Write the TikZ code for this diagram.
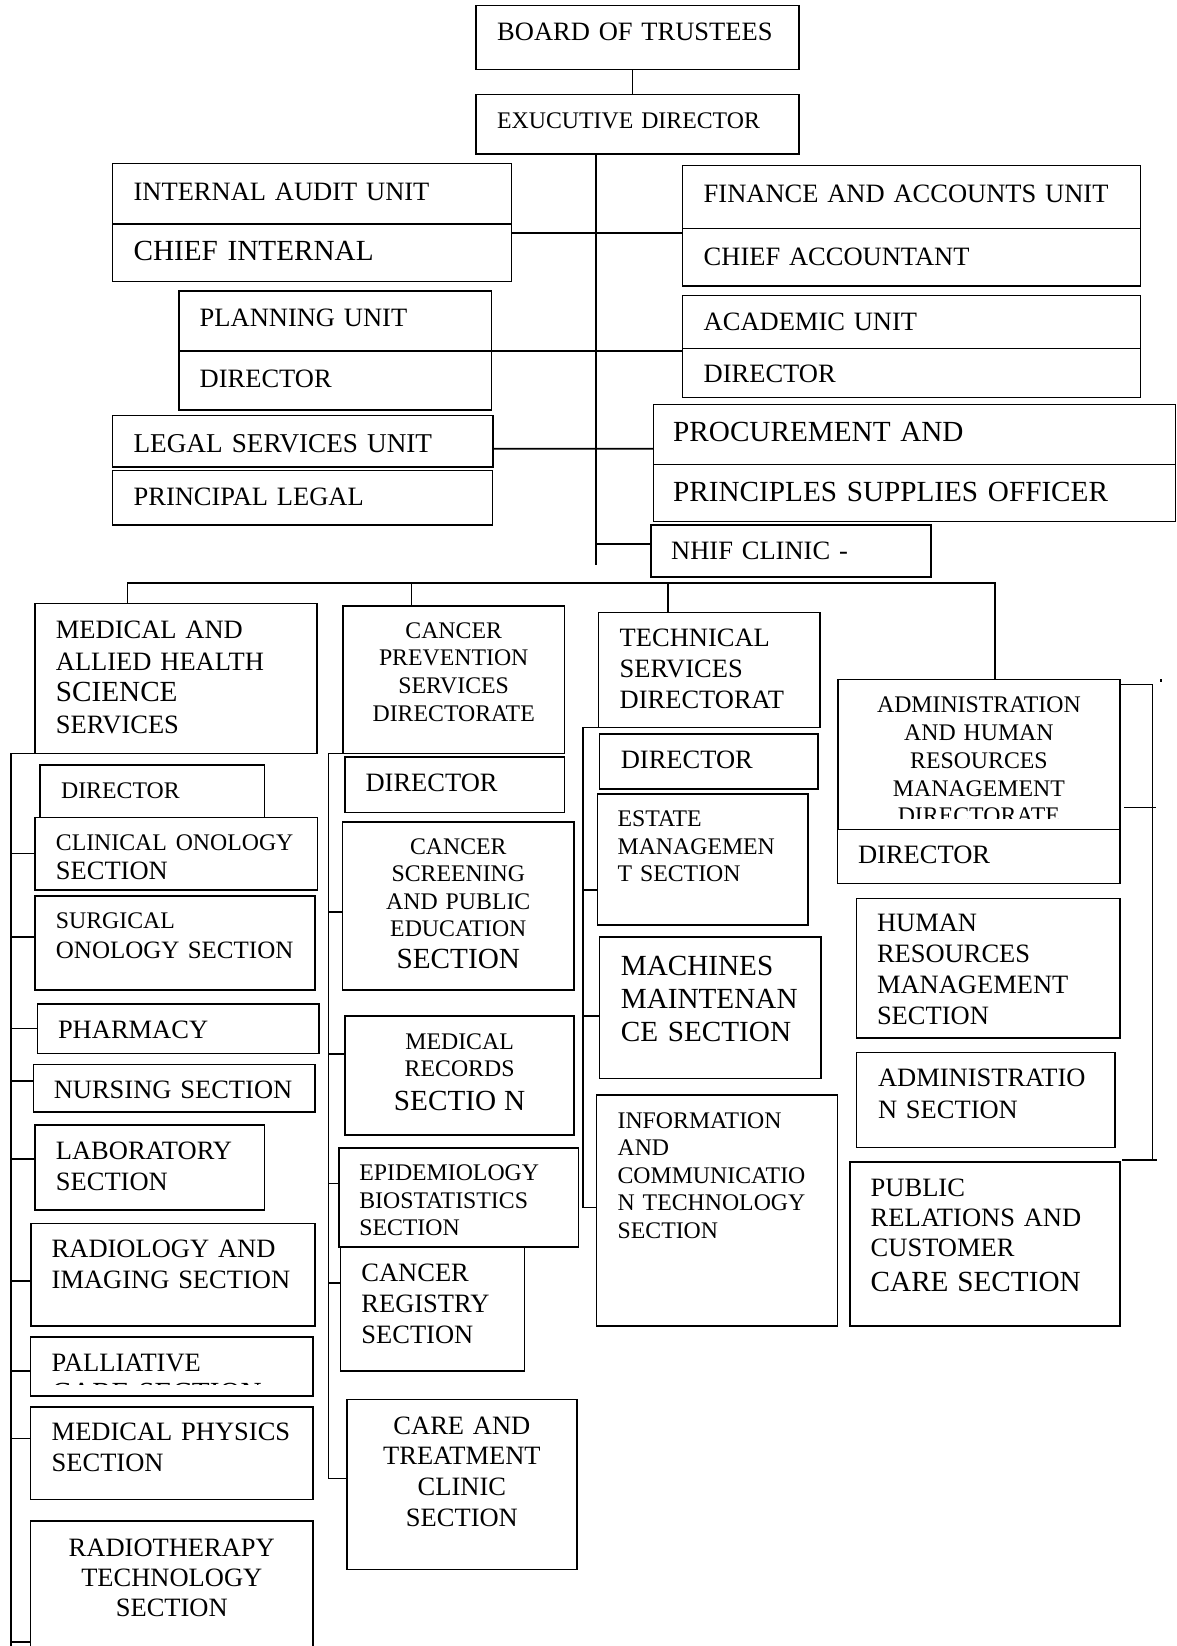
\documentclass[tikz,border=0pt]{standalone}
\usepackage{fontspec}
\setmainfont{Liberation Serif}
\usetikzlibrary{calc}

\newcommand{\fsm}{\fontsize{23.8}{27.6}\selectfont}
\newcommand{\fnm}{\fontsize{26.5}{30.7}\selectfont}
\newcommand{\fbg}{\fontsize{29.2}{33}\selectfont}

\begin{document}
\begin{tikzpicture}[x=1pt,y=1pt,yscale=-1,
    unit/.style={draw, line width=1.6pt, anchor=north west, inner sep=0pt, outer sep=0pt},
    lbl/.style={inner sep=0pt, anchor=base west, text width=#1, align=left},
    clbl/.style={inner sep=0pt, anchor=base, text width=#1, align=center},
    link/.style={line width=1.6pt}]
    \path[use as bounding box] (0,0) rectangle (1177,1646);
    \clip (0,0) rectangle (1177,1646);

    %Board and executive director
    \node[unit, minimum width=323pt, minimum height=64pt] (bot) at (476,5.5) {};
    \node[lbl=290pt, font=\fnm] (bot-l) at (497,40.5) {BOARD OF TRUSTEES};
    \node[unit, minimum width=323pt, minimum height=59.5pt] (exd) at (476,94.5) {};
    \node[lbl=290pt, font=\fsm] (exd-l) at (497,128) {EXUCUTIVE DIRECTOR};

    %Units under the executive director
    \node[unit, minimum width=399pt, minimum height=60.5pt] (iau) at (112.5,163.5) {};
    \node[lbl=370pt, font=\fnm] (iau-l) at (133.4,200) {INTERNAL AUDIT UNIT};
    \node[unit, minimum width=399pt, minimum height=57.5pt] (cia) at (112.5,224) {};
    \node[lbl=370pt, font=\fbg] (cia-l) at (133.4,260) {CHIEF INTERNAL};
    \node[unit, minimum width=458pt, minimum height=63pt] (fau) at (682.5,165.5) {};
    \node[lbl=430pt, font=\fnm] (fau-l) at (703.5,202.3) {FINANCE AND ACCOUNTS UNIT};
    \node[unit, minimum width=458pt, minimum height=57.5pt] (cha) at (682.5,228.5) {};
    \node[lbl=430pt, font=\fnm] (cha-l) at (703.5,265) {CHIEF ACCOUNTANT};
    \node[unit, minimum width=312.5pt, minimum height=60pt] (plu) at (179,291) {};
    \node[lbl=285pt, font=\fnm] (plu-l) at (199.5,326.7) {PLANNING UNIT};
    \node[unit, minimum width=312.5pt, minimum height=59pt] (pld) at (179,351) {};
    \node[lbl=285pt, font=\fnm] (pld-l) at (199.5,387.3) {DIRECTOR};
    \node[unit, minimum width=458pt, minimum height=53pt] (acu) at (682.5,295.5) {};
    \node[lbl=430pt, font=\fnm] (acu-l) at (703.5,330.7) {ACADEMIC UNIT};
    \node[unit, minimum width=458pt, minimum height=49pt] (acd) at (682.5,348.5) {};
    \node[lbl=430pt, font=\fnm] (acd-l) at (703.5,382.7) {DIRECTOR};
    \node[unit, minimum width=380.5pt, minimum height=51.5pt] (lsu) at (112.5,415.5) {};
    \node[lbl=355pt, font=\fontsize{27.2}{31}\selectfont] (lsu-l) at (133.4,452.7) {LEGAL SERVICES UNIT};
    \node[unit, minimum width=380pt, minimum height=54.5pt] (plg) at (112.5,470.5) {};
    \node[lbl=355pt, font=\fnm] (plg-l) at (133.4,505) {PRINCIPAL LEGAL};
    \node[unit, minimum width=522pt, minimum height=60pt] (pro) at (653.5,404.5) {};
    \node[lbl=495pt, font=\fbg] (pro-l) at (673,441.7) {PROCUREMENT AND};
    \node[unit, minimum width=522pt, minimum height=57pt] (pso) at (653.5,464.5) {};
    \node[lbl=495pt, font=\fbg] (pso-l) at (673,501.7) {PRINCIPLES SUPPLIES OFFICER};
    \node[unit, minimum width=280pt, minimum height=52pt] (nhif) at (651,525) {};
    \node[lbl=255pt, font=\fnm] (nhif-l) at (671,559.3) {NHIF CLINIC -};

    %Lines of the top part
    \draw[link] ($(bot.south)+(-5,0)$) -- ($(exd.north)+(-5,0)$);
    \coordinate (spine) at ($(exd.south)+(-41.5,0)$);
    \coordinate (spine-end) at ($(exd.south)+(-41.5,411)$);
    \draw[link] (spine) -- (spine-end);
    \draw[link] ($(cia.north east)+(0,8.7)$) -- ($(cha.north west)+(0,4.2)$);
    \draw[link] (plu.south east) -- (plu.south east -| acu.west);
    \draw[link] ($(lsu.east)+(0,7.5)$) -- ($(pro.west)+(0,14.2)$);
    \draw[link] ($(nhif.west)+(0,-7)$) coordinate (nh) -- (nh -| spine);

    %Medical and allied health science services
    \node[unit, minimum width=282pt, minimum height=150pt] (mah) at (35.2,603.3) {};
    \node[lbl=255pt, font=\fontsize{26.5}{31.7}\selectfont] (mah-l) at (55.7,638.3) {MEDICAL AND\\ALLIED HEALTH\\{\fbg SCIENCE}\\SERVICES};
    \node[unit, minimum width=224.7pt, minimum height=52.3pt] (md) at (39.8,765) {};
    \node[lbl=200pt, font=\fsm] (md-l) at (60.9,798.3) {DIRECTOR};
    \node[unit, minimum width=282.1pt, minimum height=72.7pt] (cos) at (35.2,817.3) {};
    \node[lbl=258pt, font=\fontsize{26.5}{29.3}\selectfont] (cos-l) at (55.7,850) {{\fsm CLINICAL ONOLOGY}\\SECTION};
    \node[unit, minimum width=279.8pt, minimum height=94pt] (sos) at (35.2,896) {};
    \node[lbl=255pt, font=\fontsize{25}{30}\selectfont] (sos-l) at (55.7,928.3) {{\fsm SURGICAL}\\ONOLOGY SECTION};
    \node[unit, minimum width=281.3pt, minimum height=49.3pt] (pha) at (37.5,1004) {};
    \node[lbl=255pt, font=\fnm] (pha-l) at (57.8,1038.3) {PHARMACY};
    \node[unit, minimum width=281.7pt, minimum height=47.4pt] (nur) at (33.3,1064.3) {};
    \node[lbl=258pt, font=\fnm] (nur-l) at (53.6,1098.3) {NURSING SECTION};
    \node[unit, minimum width=229.3pt, minimum height=85pt] (lab) at (35.2,1125) {};
    \node[lbl=205pt, font=\fnm] (lab-l) at (55.7,1159.3) {LABORATORY\\SECTION};
    \node[unit, minimum width=284pt, minimum height=102.7pt] (rad) at (31,1223.3) {};
    \node[lbl=260pt, font=\fontsize{26.5}{31}\selectfont] (rad-l) at (51.5,1257.3) {RADIOLOGY AND\\IMAGING SECTION};
    \node[unit, minimum width=282.4pt, minimum height=59.3pt] (pal) at (30.6,1336.7) {};
    \begin{scope}
      \clip (pal.north west) rectangle ($(pal.south east)+(0,-11.8)$);
      \node[lbl=258pt, font=\fnm] (pal-l) at (51.5,1371.7) {PALLIATIVE\\{\fbg CARE SECTION}};
    \end{scope}
    \node[unit, minimum width=282.4pt, minimum height=92.6pt] (mph) at (30.6,1406.7) {};
    \node[lbl=258pt, font=\fontsize{26.5}{31.7}\selectfont] (mph-l) at (51.5,1440) {MEDICAL PHYSICS\\SECTION};
    \node[unit, minimum width=282.4pt, minimum height=140pt] (rtt) at (30.6,1520.7) {};
    \node[clbl=282pt, font=\fontsize{26.5}{30.3}\selectfont] (rtt-l) at (171.8,1556) {RADIOTHERAPY\\TECHNOLOGY\\SECTION};

    %Cancer prevention services directorate
    \node[unit, minimum width=221.6pt, minimum height=147.6pt] (cps) at (342.9,605.7) {};
    \node[clbl=221pt, font=\fontsize{23.8}{27.9}\selectfont] (cps-l) at (453.7,638) {CANCER\\PREVENTION\\SERVICES\\DIRECTORATE};
    \node[unit, minimum width=219.7pt, minimum height=55.6pt] (cd) at (344.8,756.7) {};
    \node[lbl=195pt, font=\fnm] (cd-l) at (365.4,791.7) {DIRECTOR};
    \node[unit, minimum width=231.5pt, minimum height=168pt] (css) at (342.5,822) {};
    \node[clbl=231pt, font=\fsm] (css-l) at (458.3,854) {CANCER\\SCREENING\\AND PUBLIC\\EDUCATION\\[4pt]{\fbg SECTION}};
    \node[unit, minimum width=228.8pt, minimum height=119pt] (mrs) at (345.2,1016) {};
    \node[clbl=228pt, font=\fontsize{23.8}{27.4}\selectfont] (mrs-l) at (459.6,1049.3) {MEDICAL\\RECORDS\\[5.9pt]{\fbg SECTIO N}};
    \node[unit, minimum width=183.7pt, minimum height=124pt] (crs) at (340.6,1246.7) {};
    \node[lbl=160pt, font=\fontsize{26.5}{30.8}\selectfont] (crs-l) at (361.2,1281.7) {CANCER\\REGISTRY\\SECTION};
    \node[unit, minimum width=239.9pt, minimum height=99pt] (eps) at (338.7,1147.7) {};
    \node[lbl=215pt, font=\fontsize{23.8}{27.5}\selectfont] (eps-l) at (359.1,1180.7) {EPIDEMIOLOGY\\BIOSTATISTICS\\SECTION};
    \node[unit, minimum width=229.6pt, minimum height=170pt] (cts) at (347.1,1399.3) {};
    \node[clbl=229pt, font=\fontsize{26.5}{30.9}\selectfont] (cts-l) at (461.9,1434) {CARE AND\\TREATMENT\\CLINIC\\SECTION};

    %Technical services directorate
    \node[unit, minimum width=221.5pt, minimum height=115pt] (tsd) at (598.6,612.3) {};
    \node[lbl=198pt, font=\fontsize{26.5}{30.8}\selectfont] (tsd-l) at (619.5,646.7) {TECHNICAL\\SERVICES\\DIRECTORAT};
    \node[unit, minimum width=218.4pt, minimum height=55pt] (td) at (599.4,734) {};
    \node[lbl=195pt, font=\fnm] (td-l) at (620.6,768.3) {DIRECTOR};
    \node[unit, minimum width=210.6pt, minimum height=131pt] (ems) at (597.4,794) {};
    \node[lbl=188pt, font=\fontsize{23.8}{27.5}\selectfont] (ems-l) at (617.4,826.7) {ESTATE\\MANAGEMEN\\T SECTION};
    \node[unit, minimum width=221.6pt, minimum height=141.6pt] (mms) at (599.4,936.7) {};
    \node[lbl=198pt, font=\fontsize{29.2}{33.3}\selectfont] (mms-l) at (620.6,975) {MACHINES\\MAINTENAN\\CE SECTION};
    \node[unit, minimum width=240.9pt, minimum height=231pt] (ict) at (596.6,1095) {};
    \node[lbl=218pt, font=\fontsize{23.8}{27.5}\selectfont] (ict-l) at (617.4,1128.3) {INFORMATION\\AND\\COMMUNICATIO\\N TECHNOLOGY\\SECTION};

    %Administration and human resources management directorate
    \node[unit, minimum width=282.2pt, minimum height=150pt] (ahr) at (837.8,679.3) {};
    \begin{scope}
      \clip (ahr.north west) rectangle ($(ahr.south east)+(0,-11)$);
      \node[clbl=282pt, font=\fontsize{23.8}{27.8}\selectfont] (ahr-l) at (978.9,712.7) {ADMINISTRATION\\AND HUMAN\\RESOURCES\\MANAGEMENT\\DIRECTORATE};
    \end{scope}
    \node[unit, minimum width=282.6pt, minimum height=54pt] (ad) at (837.4,829.3) {};
    \node[lbl=255pt, font=\fnm] (ad-l) at (857.9,863.3) {DIRECTOR};
    \node[unit, minimum width=263.7pt, minimum height=139.4pt] (hrm) at (856.3,898.3) {};
    \node[lbl=240pt, font=\fontsize{26.5}{30.8}\selectfont] (hrm-l) at (876.8,931.7) {HUMAN\\RESOURCES\\MANAGEMENT\\SECTION};
    \node[unit, minimum width=258.6pt, minimum height=95pt] (ads) at (856.3,1052.3) {};
    \node[lbl=235pt, font=\fontsize{26.5}{31.6}\selectfont] (ads-l) at (877.8,1086.7) {ADMINISTRATIO\\N SECTION};
    \node[unit, minimum width=270pt, minimum height=164.3pt] (prc) at (850,1161.7) {};
    \node[lbl=245pt, font=\fontsize{26.5}{30.4}\selectfont] (prc-l) at (870.5,1196) {PUBLIC\\RELATIONS AND\\CUSTOMER\\[4.6pt]{\fbg CARE SECTION}};

    %Bus to the directorates
    \coordinate (bus) at (0,583);
    \coordinate (d1) at ($(mah.north west)+(92.2,0)$);
    \coordinate (d2) at ($(cps.north west)+(68.5,0)$);
    \coordinate (d3) at ($(tsd.north west)+(69.6,0)$);
    \coordinate (d4) at ($(ahr.north)+(16,0)$);
    \draw[link] (d1) -- (d1 |- bus) -- (d4 |- bus) -- (d4);
    \draw[link] (d2) -- (d2 |- bus);
    \draw[link] (d3) -- (d3 |- bus);

    %Rails of the sections
    \coordinate (r1) at ($(mah.south west)+(-24.5,0)$);
    \coordinate (r1-end) at ($(r1)+(0,900)$);
    \draw[link] (mah.south west) -- (r1) -- (r1-end);
    \foreach \n/\dy in {cos/0, sos/-6.3, pha/0, nur/-7.3, lab/-8.5, rad/6.3, pal/4.4, mph/-14.7, rtt/51}
      \draw[link] ($(\n.west)+(0,\dy)$) coordinate (tk) -- (tk -| r1);

    \coordinate (r2) at ($(cps.south west)+(-14.5,0)$);
    \draw[link] (cps.south west) -- (r2) |- ($(cts.west)+(0,-6)$);
    \foreach \n/\dy in {css/5.7, mrs/-21.5, eps/-13.9, crs/-26}
      \draw[link] ($(\n.west)+(0,\dy)$) coordinate (tk) -- (tk -| r2);

    \coordinate (r3) at ($(tsd.south west)+(-15.8,0)$);
    \draw[link] (tsd.south west) -- (r3) |- ($(ict.west)+(0,-3.2)$);
    \foreach \n/\dy in {ems/30.5, mms/8.2}
      \draw[link] ($(\n.west)+(0,\dy)$) coordinate (tk) -- (tk -| r3);

    \draw[link] ($(ahr.north east)+(0,5.2)$) -| ($(prc.north east)+(32.5,-1.7)$);
    \draw[link] ($(ahr.south east)+(4,-22)$) -- ++(32,0);
    \draw[link] ($(prc.north east)+(2,-1.7)$) -- ++(34.5,0);
    \fill ($(ahr.north east)+(39.5,0)$) rectangle ++(2.2,2.2);

\end{tikzpicture}
\end{document}
